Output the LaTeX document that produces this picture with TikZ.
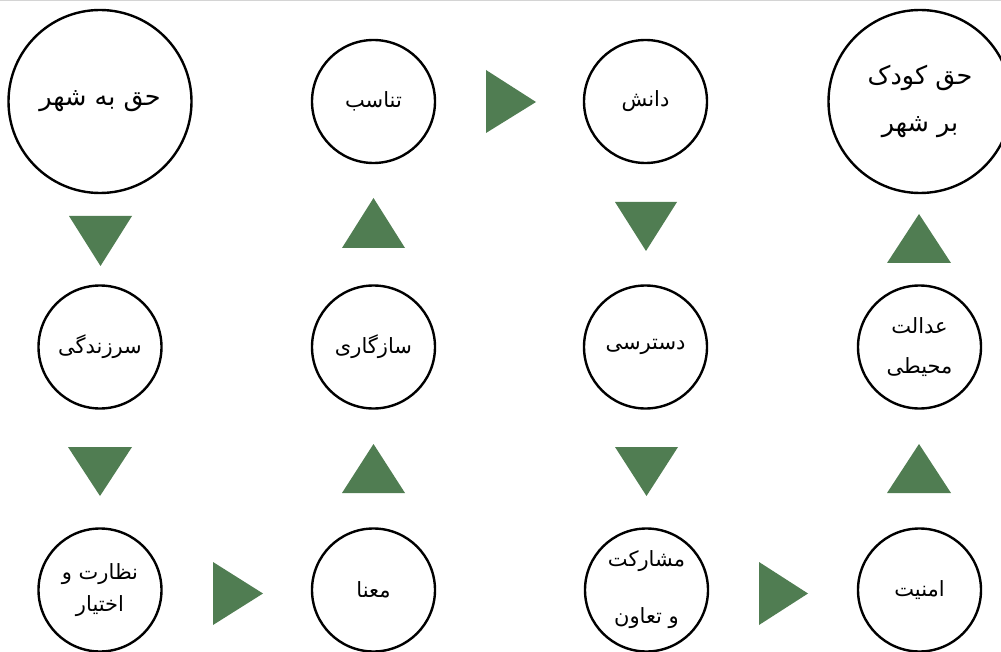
\documentclass[tikz,border=0pt]{standalone}
\usepackage{fontspec}
\newfontfamily\fa[Script=Arabic]{DejaVu Sans}
\TeXXeTstate=1
\definecolor{triG}{RGB}{80,125,82}
\definecolor{topline}{RGB}{212,212,212}
\begin{document}
\begin{tikzpicture}[x=1pt,y=-1pt,
  ring/.style={draw=black,line width=2.4pt,circle,inner sep=0pt,fill=white,align=center,font=\fa\fontsize{21}{26}\selectfont},
  small/.style={ring,minimum size=123pt},
  big/.style={ring,minimum size=183pt,font=\fa\fontsize{25.5}{32}\selectfont},
  tri/.style={fill=triG}]
\useasboundingbox (0,0) rectangle (1001,652);
\clip (0,0) rectangle (1001,652);
\draw[topline,line width=1.5pt] (0,0.75) -- (1001,0.75);
% row 1
\node[big] (n1) at (100,101.5) {\beginR حق به شهر\endR};
\node[small] (n2) at (373.5,101.5) {\beginR تناسب\endR};
\node[small] (n3) at (645.5,101.5) {\beginR دانش\endR};
\node[big,font=\fa\fontsize{25.5}{47}\selectfont] (n4) at (920,101.5) {\beginR حق کودک\endR\\\beginR بر شهر\endR};
% row 2
\node[small] (m1) at (100,347) {\beginR سرزندگی\endR};
\node[small] (m2) at (373.5,347) {\beginR سازگاری\endR};
\node[small] (m3) at (645.5,347) {\beginR دسترسی\endR};
\node[small,font=\fa\fontsize{21}{40}\selectfont] (m4) at (919.5,347) {\beginR عدالت\endR\\\beginR محیطی\endR};
% row 3
\node[small,font=\fa\fontsize{21}{32}\selectfont] (b1) at (100,590) {\beginR نظارت و\endR\\\beginR اختیار\endR};
\node[small] (b2) at (373.5,590) {\beginR معنا\endR};
\node[small,font=\fa\fontsize{21}{57}\selectfont] (b3) at (646.5,590) {\beginR مشارکت\endR\\\beginR و تعاون\endR};
\node[small] (b4) at (919.5,590) {\beginR امنیت\endR};
% triangles
\fill[tri] (69,216) -- (132,216) -- (100.5,266) -- cycle;
\fill[tri] (68,447) -- (132,447) -- (100,496) -- cycle;
\fill[tri] (342,248) -- (405,248) -- (373.5,198) -- cycle;
\fill[tri] (342,493) -- (405,493) -- (373.5,444) -- cycle;
\fill[tri] (615,202) -- (677,202) -- (646,251) -- cycle;
\fill[tri] (615,447) -- (678,447) -- (646.5,496) -- cycle;
\fill[tri] (887,263) -- (951,263) -- (919,214) -- cycle;
\fill[tri] (887,493) -- (951,493) -- (919,444) -- cycle;
\fill[tri] (486,70) -- (486,133) -- (536,102) -- cycle;
\fill[tri] (213,562) -- (213,625) -- (263,593.5) -- cycle;
\fill[tri] (759,562) -- (759,625) -- (808,593.5) -- cycle;
\end{tikzpicture}
\end{document}
